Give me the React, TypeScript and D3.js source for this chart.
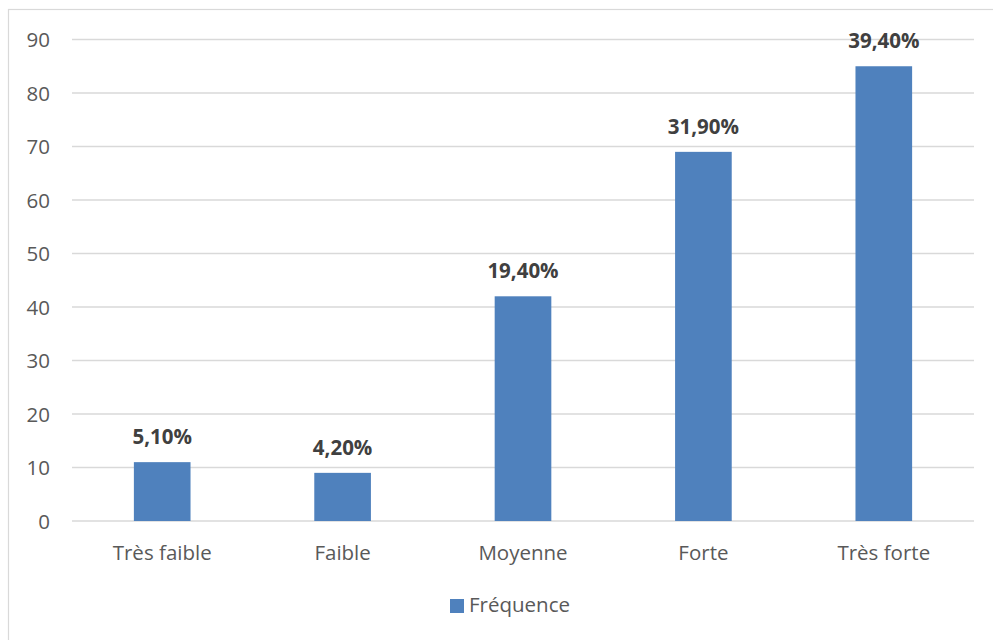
import React from "react";
import * as d3 from "d3";

const categories = ["Très faible", "Faible", "Moyenne", "Forte", "Très forte"];
const frequencies = [11, 9, 42, 69, 85];
const percentLabels = ["5,10%", "4,20%", "19,40%", "31,90%", "39,40%"];
const yTicks = [0, 10, 20, 30, 40, 50, 60, 70, 80, 90];
const seriesName = "Fréquence";

const W = 993;
const H = 640;
const plot = { left: 72, right: 974, top: 39.5, bottom: 521 };
const font = "'Open Sans', 'Noto Sans', sans-serif";

export default function App() {
  const x = d3
    .scaleBand<string>()
    .domain(categories)
    .range([plot.left, plot.right])
    .paddingInner(0.686)
    .paddingOuter(0.343);
  const y = d3.scaleLinear().domain([0, 90]).range([plot.bottom, plot.top]);

  return (
    <svg
      width={W}
      height={H}
      style={{ position: "absolute", left: 0, top: 0, background: "#fff" }}
    >
      <rect x={8.5} y={9.5} width={1000} height={700} fill="#fff" stroke="#d9d9d9" strokeWidth={1.2} />
      {yTicks.map((t) => (
        <g key={t}>
          <line x1={plot.left} x2={plot.right} y1={y(t)} y2={y(t)} stroke="#d9d9d9" strokeWidth={1.3} />
          <text x={50} y={y(t) + 7.5} textAnchor="end" fontFamily={font} fontSize={20.5} fill="#595959">
            {t}
          </text>
        </g>
      ))}
      {categories.map((c, i) => {
        const bx = x(c)!;
        const cx = bx + x.bandwidth() / 2;
        return (
          <g key={c}>
            <rect x={bx} y={y(frequencies[i])} width={x.bandwidth()} height={y(0) - y(frequencies[i])} fill="#4f81bd" />
            <text
              x={cx}
              y={y(frequencies[i]) - 18}
              textAnchor="middle"
              fontFamily={font}
              fontWeight={700}
              fontSize={20.5}
              fill="#404040"
            >
              {percentLabels[i]}
            </text>
            <text x={cx} y={560} textAnchor="middle" fontFamily={font} fontSize={20.5} fill="#595959">
              {c}
            </text>
          </g>
        );
      })}
      <rect x={450} y={599} width={14} height={14} fill="#4f81bd" />
      <text x={469} y={612} fontFamily={font} fontSize={20.5} fill="#595959">
        {seriesName}
      </text>
    </svg>
  );
}
